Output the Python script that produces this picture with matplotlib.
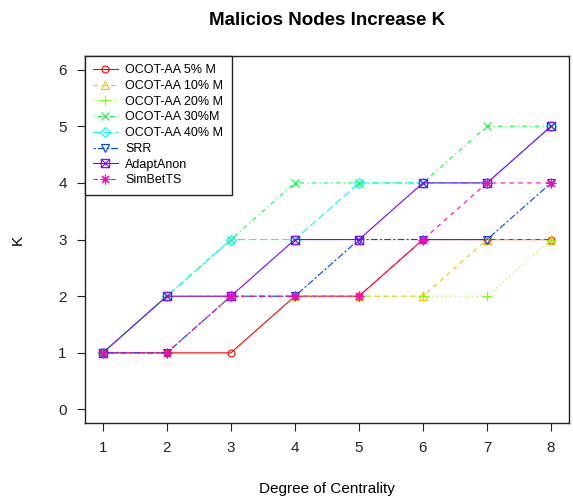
import matplotlib
matplotlib.use("Agg")
import matplotlib.pyplot as plt
from matplotlib.path import Path

plt.rcParams['font.family'] = ['Liberation Sans', 'DejaVu Sans']

x = [1, 2, 3, 4, 5, 6, 7, 8]
names = ["OCOT-AA 5% M", "OCOT-AA 10% M", "OCOT-AA 20% M", "OCOT-AA 30%M",
         "OCOT-AA 40% M", "SRR", "AdaptAnon", "SimBetTS"]
oc5 = [1, 1, 1, 2, 2, 3, 3, 3]
oc10 = [1, 2, 2, 2, 2, 2, 3, 3]
oc20 = [1, 2, 2, 2, 2, 2, 2, 3]
oc30 = [1, 2, 3, 4, 4, 4, 5, 5]
oc40 = [1, 2, 3, 3, 4, 4, 4, 5]
srr = [1, 1, 2, 2, 3, 3, 3, 4]
adapt = [1, 2, 2, 3, 3, 4, 4, 5]
simbet = [1, 1, 2, 2, 2, 3, 4, 4]
series = [oc5, oc10, oc20, oc30, oc40, srr, adapt, simbet]

colors = ["#FF0000", "#FFBF00", "#80FF00", "#00FF40", "#00FFFF", "#0040FF", "#8000FF", "#FF00BF"]
dashes = [None, (4, 4), (1, 3), (1, 3, 4, 3), (7, 3), (2, 2, 6, 2), None, (4, 4)]

sqx = Path([(-1, -1), (1, -1), (1, 1), (-1, 1), (-1, -1), (-1, -1), (1, 1), (-1, 1), (1, -1)],
           [Path.MOVETO, Path.LINETO, Path.LINETO, Path.LINETO, Path.CLOSEPOLY,
            Path.MOVETO, Path.LINETO, Path.MOVETO, Path.LINETO])
markers = ['o', '^', '+', 'x', 'D', 'v', sqx, (8, 2, 0)]
msizes = [5, 6, 7, 6, 5.5, 6, 6, 7]

fig = plt.figure(figsize=(5.73, 4.96), dpi=100)
ax = fig.add_axes([0.148, 0.147, 0.845, 0.740])

for ys, name, c, d, m, ms in zip(series, names, colors, dashes, markers, msizes):
    kw = dict(color=c, lw=0.8, marker=m, markersize=ms, markerfacecolor='none',
              markeredgecolor=c, markeredgewidth=0.8, label=name)
    if d is not None:
        kw['dashes'] = d
    ax.plot(x, ys, **kw)

ax.set_xlim(0.72, 8.28)
ax.set_ylim(-0.24, 6.24)
ax.set_xticks(x)
ax.set_yticks([0, 1, 2, 3, 4, 5, 6])
ax.tick_params(direction='out', length=6, width=0.8, labelsize=11, pad=7, colors='#222222')
for s in ax.spines.values():
    s.set_linewidth(1.0)
    s.set_color('#222222')

ax.set_title("Malicios Nodes Increase K", fontsize=13.5, fontweight='bold', pad=22)
ax.set_xlabel("Degree of Centrality", fontsize=11, labelpad=19)
ax.set_ylabel("K", fontsize=11, labelpad=24)

leg = ax.legend(loc='upper left', borderaxespad=0, fontsize=9, fancybox=False,
                framealpha=1, edgecolor='#222222', handlelength=2.0,
                labelspacing=0.3, handletextpad=0.6, borderpad=0.65)
leg.get_frame().set_linewidth(1.0)

fig.savefig("out.png", dpi=100)
